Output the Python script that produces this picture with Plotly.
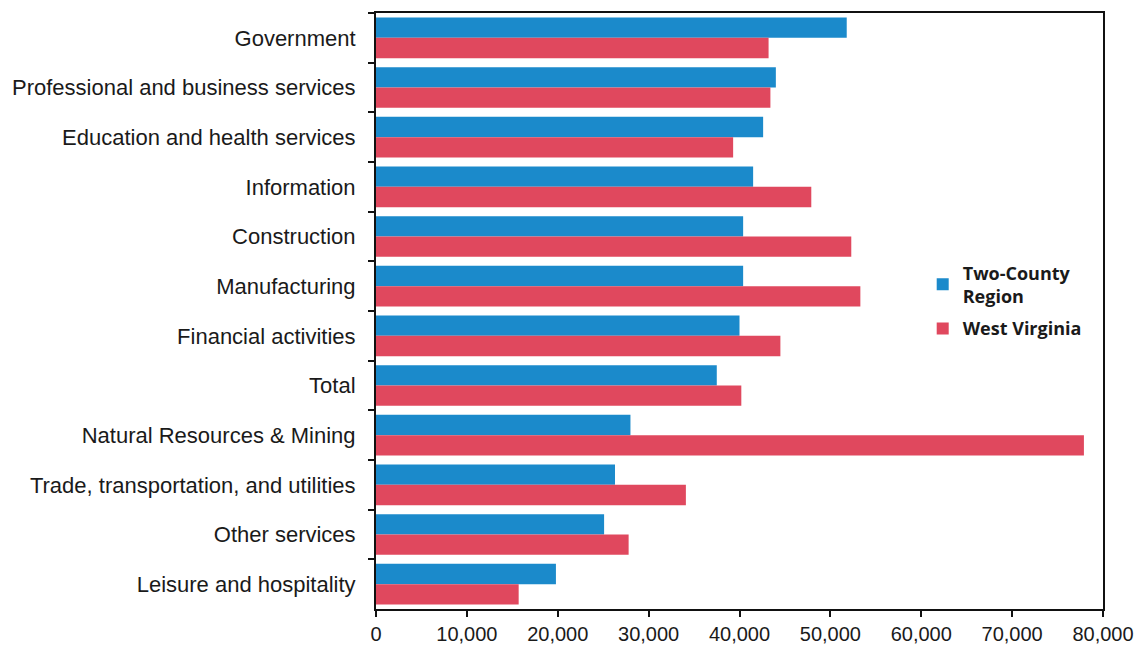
import plotly.graph_objects as go

industries = [
    "Government",
    "Professional and business services",
    "Education and health services",
    "Information",
    "Construction",
    "Manufacturing",
    "Financial activities",
    "Total",
    "Natural Resources & Mining",
    "Trade, transportation, and utilities",
    "Other services",
    "Leisure and hospitality",
]
two_county = [51800, 44000, 42600, 41500, 40400, 40400, 40000, 37500, 28000, 26300, 25100, 19800]
west_virginia = [43200, 43400, 39300, 47900, 52300, 53300, 44500, 40200, 77900, 34100, 27800, 15700]
x_ticks = [0, 10000, 20000, 30000, 40000, 50000, 60000, 70000, 80000]

fig = go.Figure()
fig.add_trace(go.Bar(
    y=industries, x=two_county, orientation="h", legendgroup="region",
    name="Two-County<br>Region", marker=dict(color="#1B8ACB", line=dict(width=0)),
))
fig.add_trace(go.Bar(
    y=industries, x=west_virginia, orientation="h", legendgroup="state",
    name="West Virginia", marker=dict(color="#E0485E", line=dict(width=0)),
))

fig.update_layout(
    width=1141, height=647,
    margin=dict(l=376, r=38, t=13, b=38),
    paper_bgcolor="white", plot_bgcolor="white",
    barmode="group", bargap=0.18, bargroupgap=0.0,
    font=dict(family="Liberation Sans, Arial, sans-serif", size=21, color="#1a1a1a"),
    legend=dict(
        x=0.752, y=0.595, xanchor="left", yanchor="top",
        font=dict(family="Open Sans, sans-serif", size=18, color="#1a1a1a", weight="bold"),
        bgcolor="rgba(0,0,0,0)", itemwidth=30,
        traceorder="grouped", tracegroupgap=6,
    ),
    showlegend=True,
)
fig.update_xaxes(
    range=[0, 80000], tickvals=x_ticks, tickformat=",d",
    showgrid=False, zeroline=False, automargin=False,
    showline=True, mirror=True, linecolor="#111", linewidth=2,
    ticks="outside", ticklen=6, tickcolor="#111", tickwidth=1.5,
    tickfont=dict(size=20), ticklabelstandoff=0,
)
fig.update_yaxes(
    categoryorder="array", categoryarray=industries, autorange="reversed",
    showgrid=False, zeroline=False, automargin=False,
    showline=True, mirror=True, linecolor="#111", linewidth=2,
    ticks="outside", tickson="boundaries", ticklen=6, tickcolor="#111", tickwidth=1.5,
    tickfont=dict(size=22), ticklabelstandoff=14,
)

fig.write_html("out.html")
